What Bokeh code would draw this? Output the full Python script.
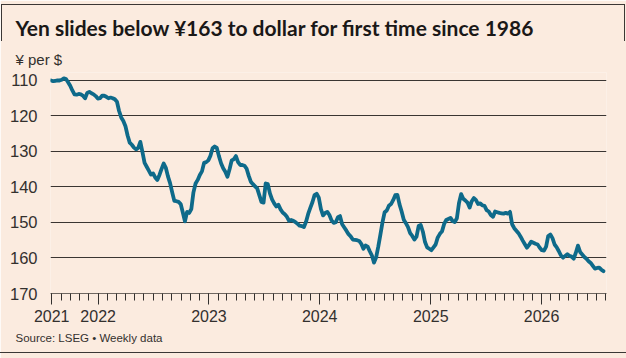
import pandas as pd
from bokeh.plotting import figure
from bokeh.models import Range1d, FixedTicker, Title, CustomJSTickFormatter
from bokeh.embed import file_html
from bokeh.resources import INLINE

# Weekly yen-per-dollar closes, first week ending 2021-07-30
first_week = "2021-07-30"
yen_per_dollar = [
    110.0, 110.2, 110.1, 110.0, 110.0, 109.8, 109.4, 109.6, 110.5, 111.5,
    112.8, 113.9, 114.0, 113.8, 113.9, 114.3, 115.0, 113.5, 113.2, 113.6,
    113.9, 114.4, 115.1, 115.0, 114.3, 114.3, 114.6, 115.0, 114.8, 115.0,
    115.3, 116.0, 118.6, 120.4, 121.4, 122.9, 125.5, 127.5, 128.1, 128.9,
    129.4, 129.0, 127.3, 130.2, 133.2, 134.3, 135.4, 136.5, 136.2, 137.3,
    138.0, 136.6, 134.9, 133.4, 134.6, 137.0, 138.9, 141.5, 143.9, 144.0,
    144.2, 144.8, 147.2, 149.7, 147.0, 147.3, 146.2, 141.5, 139.0, 138.0,
    136.6, 135.6, 133.2, 133.0, 132.5, 131.2, 129.1, 128.6, 129.0, 131.3,
    133.3, 134.7, 135.7, 137.1, 135.0, 132.5, 132.2, 131.3, 133.0, 133.8,
    133.8, 134.0, 134.8, 136.8, 138.5, 139.2, 139.8, 140.4, 142.3, 144.2,
    144.4, 139.0, 139.2, 141.8, 143.5, 144.6, 145.5, 145.0, 146.3, 147.2,
    147.7, 148.4, 149.5, 149.3, 149.5, 149.9, 150.4, 150.9, 151.0, 151.3,
    149.8, 147.6, 145.9, 144.3, 142.3, 141.9, 143.0, 146.2, 148.0, 147.3,
    147.0, 147.9, 149.4, 150.1, 149.9, 148.5, 148.2, 150.5, 151.4, 152.3,
    153.3, 153.9, 154.8, 154.9, 155.0, 155.2, 156.0, 157.4, 156.5, 156.8,
    158.1, 159.3, 161.3, 159.8, 156.8, 153.4, 149.9, 147.1, 146.6, 145.3,
    144.8, 143.7, 142.3, 142.2, 144.9, 146.9, 149.2, 150.2, 151.3, 153.0,
    153.8, 154.8, 154.0, 151.0, 150.7, 152.6, 155.5, 157.0, 157.4, 157.8,
    157.0, 156.2, 154.2, 153.2, 152.5, 150.4, 149.3, 149.0, 148.7, 149.6,
    149.9, 148.8, 144.5, 142.0, 143.3, 143.8, 144.4, 145.8, 144.0, 143.1,
    143.7, 144.8, 144.6, 145.2, 145.3, 146.5, 146.9, 147.9, 148.4, 146.9,
    147.1, 147.3, 147.4, 147.5, 147.3, 147.5, 147.0, 150.5, 151.6, 152.3,
    153.0, 154.0, 155.1, 156.1, 157.1, 156.3, 155.4, 155.7, 156.0, 156.2,
    157.1, 157.8, 157.9, 156.8, 153.8, 153.4, 154.4, 156.2, 157.0, 158.1,
    159.3, 159.9, 159.4, 158.9, 159.4, 159.6, 160.2, 158.5, 156.5, 158.3,
    159.0, 159.7, 160.2, 160.9, 161.4, 162.2, 163.0, 162.8, 162.7, 163.3,
    163.7,
]
weeks = pd.date_range(first_week, periods=len(yen_per_dollar), freq="7D")

y_ticks = [110, 120, 130, 140, 150, 160, 170]
year_ticks = ["2021-08-01", "2022-01-01", "2023-01-01", "2024-01-01",
              "2025-01-01", "2026-01-01"]
month_ticks = pd.date_range("2021-08-01", "2026-08-01", freq="MS")

title_text = "Yen slides below ¥163 to dollar for first time since 1986"
unit_text = "¥ per $"
source_text = "Source: LSEG \u2022 Weekly data"

BG = "#FBEBDF"
INK = "#33302E"
TEAL = "#0E6A8A"
BODY_FONT = "Liberation Sans"
HEAD_FONT = "Lato"


def ms(ts):
    return pd.Timestamp(ts).value / 1e6


p = figure(width=626, height=358, x_axis_type="datetime",
           output_backend="svg", toolbar_location=None,
           x_range=Range1d(ms("2021-07-28"), ms("2026-08-03")),
           y_range=Range1d(170, 107.75),
           min_border_left=50, min_border_right=20,
           min_border_top=72, min_border_bottom=65)
p.background_fill_color = BG
p.border_fill_color = BG
p.outline_line_color = None

# thin frame rules around the graphic (top bracket and bottom line)
p.stylesheets = [
    ":host::before { content: ''; position: absolute; left: 1px; right: 1px;"
    " top: 4px; height: 36px; border: 1px solid #3b3735; border-bottom: none;"
    " pointer-events: none; z-index: 5; }",
    ":host::after { content: ''; position: absolute; left: 0; right: 0;"
    " top: 352px; height: 1px; background: #3b3735;"
    " pointer-events: none; z-index: 5; }",
]

# y axis: labels only, gridlines carry the scale
p.yaxis.ticker = FixedTicker(ticks=y_ticks)
p.yaxis.axis_line_color = None
p.yaxis.major_tick_line_color = None
p.yaxis.minor_tick_line_color = None
p.yaxis.major_label_standoff = 7
p.yaxis.major_label_text_font = BODY_FONT
p.yaxis.major_label_text_font_size = "16.5px"
p.yaxis.major_label_text_color = INK

p.ygrid.ticker = FixedTicker(ticks=y_ticks[:-1])
p.ygrid.grid_line_color = "#3a3532"
p.ygrid.grid_line_width = 1
p.xgrid.grid_line_color = None

# x axis: monthly minor ticks, yearly labels
p.xaxis.ticker = FixedTicker(ticks=[ms(t) for t in year_ticks],
                             minor_ticks=[ms(t) for t in month_ticks])
p.xaxis.formatter = CustomJSTickFormatter(
    code="return String(new Date(tick).getUTCFullYear());")
p.xaxis.axis_line_color = "#6e6660"
p.xaxis.axis_line_width = 1
p.xaxis.major_tick_line_color = INK
p.xaxis.minor_tick_line_color = INK
p.xaxis.major_tick_in = 0
p.xaxis.major_tick_out = 11
p.xaxis.minor_tick_in = 0
p.xaxis.minor_tick_out = 7
p.xaxis.major_label_standoff = 5
p.xaxis.major_label_text_font = BODY_FONT
p.xaxis.major_label_text_font_size = "16px"
p.xaxis.major_label_text_color = INK

p.line(weeks, yen_per_dollar, line_color=TEAL, line_width=3.8,
       line_join="round", line_cap="round")

# unit note sits just above the plot, headline above it
p.add_layout(Title(text=unit_text, align="left", offset=-35, standoff=10,
                   text_font=BODY_FONT, text_font_style="normal",
                   text_font_size="15px", text_color=INK), "above")
p.add_layout(Title(text=title_text, align="left", offset=-35, standoff=7,
                   text_font=HEAD_FONT, text_font_style="bold",
                   text_font_size="21px", text_color="#1a1817"), "above")
p.add_layout(Title(text=source_text, align="left", offset=-35, standoff=10,
                   text_font=BODY_FONT, text_font_style="normal",
                   text_font_size="11.5px", text_color=INK), "below")

open("out.html", "w").write(file_html(p, INLINE))
